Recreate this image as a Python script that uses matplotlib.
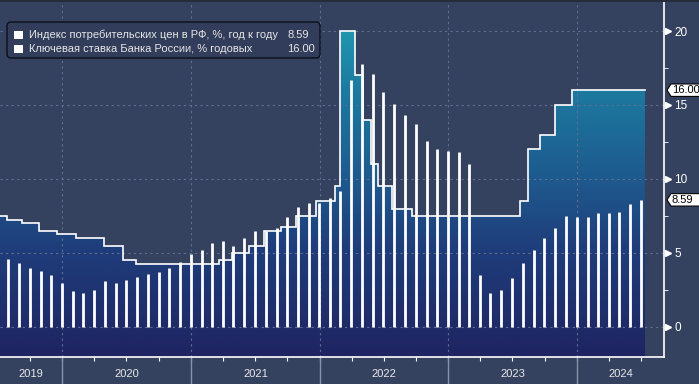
import numpy as np
import pandas as pd
import matplotlib
matplotlib.use('Agg')
import matplotlib.pyplot as plt
import matplotlib.dates as mdates
from matplotlib.colors import LinearSegmentedColormap
from matplotlib.patches import Polygon, FancyBboxPatch, Rectangle
from matplotlib.transforms import blended_transform_factory, IdentityTransform, ScaledTranslation

plt.rcParams['font.family'] = ['Liberation Sans', 'DejaVu Sans']

# Инфляция (CPI, % г/г), конец месяца, июль 2019 - июнь 2024
cpi_start = '2019-07-31'
cpi_values = [4.6, 4.3, 4.0, 3.8, 3.5, 3.0,
              2.4, 2.3, 2.5, 3.1, 3.0, 3.2, 3.4, 3.6, 3.7, 4.0, 4.4, 4.9,
              5.2, 5.7, 5.8, 5.5, 6.0, 6.5, 6.5, 6.7, 7.4, 8.1, 8.4, 8.4,
              8.7, 9.2, 16.7, 17.8, 17.1, 15.9, 15.1, 14.3, 13.7, 12.6, 12.0, 11.9,
              11.8, 11.0, 3.5, 2.3, 2.5, 3.3, 4.3, 5.2, 6.0, 6.7, 7.5, 7.4,
              7.4, 7.7, 7.7, 7.8, 8.3, 8.59]

# Ключевая ставка: даты изменений и уровни
rate_dates = ['2019-07-08', '2019-07-29', '2019-09-09', '2019-10-28', '2019-12-16',
              '2020-02-10', '2020-04-27', '2020-06-22', '2020-07-27', '2021-03-22',
              '2021-04-26', '2021-06-15', '2021-07-26', '2021-09-13', '2021-10-25',
              '2021-12-20', '2022-02-14', '2022-02-28', '2022-04-11', '2022-05-04',
              '2022-05-27', '2022-06-14', '2022-07-25', '2022-09-19', '2023-07-24',
              '2023-08-15', '2023-09-18', '2023-10-30', '2023-12-18', '2024-07-12']
rate_values = [7.5, 7.25, 7.0, 6.5, 6.25, 6.0, 5.5, 4.5, 4.25, 4.5,
               5.0, 5.5, 6.5, 6.75, 7.5, 8.5, 9.5, 20.0, 17.0, 14.0,
               11.0, 9.5, 8.0, 7.5, 8.5, 12.0, 13.0, 15.0, 16.0, 16.0]

years = [2019, 2020, 2021, 2022, 2023, 2024]
y_ticks = [0, 5, 10, 15, 20]
legend_labels = ['Индекс потребительских цен в РФ, %, год к году',
                 'Ключевая ставка Банка России, % годовых']
legend_values = ['8.59', '16.00']

BG = '#344260'
W, H = 699, 384

fig = plt.figure(figsize=(W / 100, H / 100), dpi=100, facecolor=BG)
ax = fig.add_axes([0, 1 - 357 / H, 664 / W, 355 / H], facecolor=BG)

x_left = mdates.date2num(pd.Timestamp('2019-07-08'))
x_right = mdates.date2num(pd.Timestamp('2024-09-04'))
y_bot, y_top = -2.03, 21.96

# ступенчатая линия ставки
xs = mdates.date2num(pd.to_datetime(rate_dates))
step_x, step_y = [], []
for i in range(len(xs) - 1):
    step_x += [xs[i], xs[i + 1]]
    step_y += [rate_values[i], rate_values[i]]

verts = [(step_x[0], y_bot)] + list(zip(step_x, step_y)) + [(step_x[-1], y_bot)]
clip = Polygon(verts, closed=True, fc='none', ec='none')
ax.add_patch(clip)

cmap = LinearSegmentedColormap.from_list('area', [
    (0.0, '#1f2462'), (0.32, '#1f3c7a'), (0.55, '#1e5a8e'),
    (0.82, '#1c7aa0'), (1.0, '#2196ae')])
grad = np.linspace(y_bot, 20, 256).reshape(-1, 1)
im = ax.imshow(grad, extent=[xs[0], xs[-1], y_bot, 20], origin='lower', cmap=cmap,
               aspect='auto', zorder=1)
im.set_clip_path(clip)

ax.plot(step_x, step_y, color='white', lw=1.2, zorder=3, solid_joinstyle='miter')

# столбики CPI
cpi_dates = pd.date_range(cpi_start, periods=len(cpi_values), freq='ME')
ax.vlines(cpi_dates, 0, cpi_values, color='white', lw=2, zorder=4)

# сетка
for y in y_ticks:
    ax.axhline(y, color='#5f6f90', lw=0.8, ls=(0, (2, 3)), zorder=2)
for yr in years[1:]:
    ax.axvline(mdates.date2num(pd.Timestamp(f'{yr}-01-01')), color='#5f6f90', lw=0.8,
               ls=(0, (2, 3)), zorder=2)

ax.set_xlim(x_left, x_right)
ax.set_ylim(y_bot, y_top)

for s in ['top', 'left']:
    ax.spines[s].set_visible(False)
for s in ['right', 'bottom']:
    ax.spines[s].set_color('white')
    ax.spines[s].set_linewidth(1.2)

# ось Y справа
ax.yaxis.tick_right()
ax.set_yticks(y_ticks)
ax.set_yticks([2.5, 7.5, 12.5, 17.5], minor=True)
ax.tick_params(axis='y', which='major', length=0, pad=7.5, labelcolor='white', labelsize=8.5)
ax.tick_params(axis='y', which='minor', length=3, color='white', direction='out')
tri_tr = ax.get_yaxis_transform() + ScaledTranslation(4 / 100, 0, fig.dpi_scale_trans)
ax.plot([1.0] * len(y_ticks), y_ticks, transform=tri_tr, ls='none', marker='>',
        ms=5, color='white', clip_on=False, zorder=5)

# ось X: кварталы, разделители лет, подписи
quarters = pd.date_range('2019-10-01', '2024-07-01', freq='QS')
ax.set_xticks(mdates.date2num(quarters))
ax.set_xticklabels([])
ax.tick_params(axis='x', length=3, color='white', direction='out')
xtr = ax.get_xaxis_transform()
bounds = [x_left] + [mdates.date2num(pd.Timestamp(f'{yr}-01-01')) for yr in years[1:]] + [x_right]
for b in bounds[1:-1]:
    ax.plot([b, b], [0, -27 / 355], transform=xtr, color='#8a93a8', lw=1, clip_on=False)
for i, yr in enumerate(years):
    ax.text((bounds[i] + bounds[i + 1]) / 2, -17 / 355, str(yr), transform=xtr,
            ha='center', va='center', color='#e8e8e8', fontsize=8)

# метки последних значений
btr = blended_transform_factory(fig.transFigure, ax.transData)
for val, txt in [(16.0, '16.00'), (8.59, '8.59')]:
    h = 0.42
    pts = [(667 / W, val), (671 / W, val + h), (1.01, val + h), (1.01, val - h), (671 / W, val - h)]
    ax.add_patch(Polygon(pts, closed=True, transform=btr, fc='white', ec='black', lw=0.8,
                         clip_on=False, zorder=6))
    ax.text(672 / W, val, txt, transform=btr, ha='left', va='center', fontsize=8,
            color='black', zorder=7, clip_on=False)

# верхняя тёмная полоса
fig.patches.append(Rectangle((0, 1 - 2 / H), 1, 2 / H, transform=fig.transFigure,
                             fc='#252c3a', ec='none'))

# легенда
fig.patches.append(FancyBboxPatch((7, H - 58), 313, 36, boxstyle='round,pad=0,rounding_size=4',
                                  transform=IdentityTransform(), fc='#313d5a', ec='#0c0f1c', lw=1))
for i, (lab, val) in enumerate(zip(legend_labels, legend_values)):
    yc = 35 + 14 * i
    fig.patches.append(Rectangle((14, H - yc - 4), 9, 8, transform=IdentityTransform(),
                                 fc='white', ec='none'))
    fig.text(29 / W, 1 - yc / H, lab, ha='left', va='center', color='#e6e6e6', fontsize=8)
    fig.text(287 / W, 1 - yc / H, val, ha='left', va='center', color='#e6e6e6', fontsize=8)

fig.savefig('out.png', dpi=100, facecolor=BG)
